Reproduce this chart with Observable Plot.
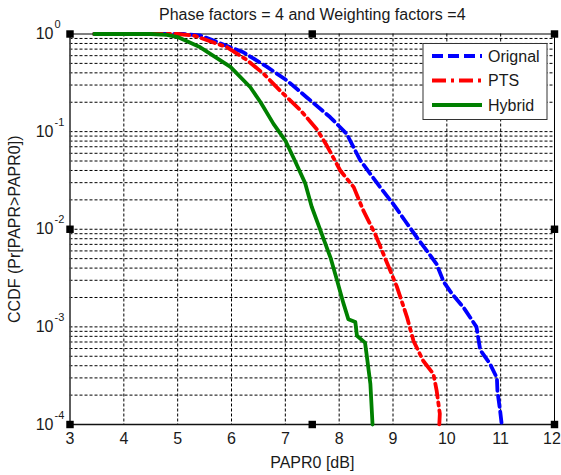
<!DOCTYPE html>
<html><head><meta charset="utf-8">
<script src="https://cdn.jsdelivr.net/npm/d3@7"></script>
<script src="https://cdn.jsdelivr.net/npm/@observablehq/plot@0.6"></script>
<style>html,body{margin:0;padding:0;background:#fff;}</style>
</head><body><div id="chart"></div>
<script>
const title = "Phase factors = 4 and Weighting factors =4";
const xLabel = "PAPR0 [dB]";
const yLabel = "CCDF (Pr[PAPR>PAPR0])";
const seriesNames = ["Orignal", "PTS", "Hybrid"];
const seriesColors = ["#0000ff", "#ff0000", "#008000"];
const seriesDash = ["11,5", "14,5,3,5", null];
const xTicks = [3, 4, 5, 6, 7, 8, 9, 10, 11, 12];
const yExponents = [0, -1, -2, -3, -4];

const origX = [3.45, 5.1, 5.42, 6.22, 6.66, 7.03, 7.40, 7.83, 8.14, 8.39, 8.76, 9.01, 9.22, 9.44, 9.63, 9.81, 9.94, 10.09, 10.31, 10.55, 10.62, 10.80, 10.93, 10.94, 10.99, 11.02];
const origY = [1, 1, 0.965, 0.65, 0.46, 0.334, 0.224, 0.141, 0.095, 0.051, 0.027, 0.018, 0.0123, 0.0083, 0.006, 0.0044, 0.0029, 0.0022, 0.00158, 0.001, 0.00058, 0.00042, 0.0003, 0.00022, 0.000138, 0.0001];

const ptsX = [3.45, 5.0, 5.30, 5.92, 6.29, 6.60, 6.91, 7.28, 7.59, 7.77, 8.02, 8.27, 8.45, 8.67, 8.85, 9.07, 9.26, 9.38, 9.56, 9.75, 9.81, 9.87, 9.86];
const ptsY = [1, 1, 0.965, 0.73, 0.54, 0.39, 0.26, 0.166, 0.105, 0.072, 0.04, 0.027, 0.0155, 0.0089, 0.0051, 0.0026, 0.00126, 0.00072, 0.00045, 0.00033, 0.000224, 0.000129, 0.0001];

const hybX = [3.45, 4.5, 4.8, 5.0, 5.42, 5.98, 6.35, 6.54, 6.78, 7.0, 7.18, 7.37, 7.49, 7.65, 7.84, 7.96, 8.08, 8.17, 8.30, 8.33, 8.48, 8.51, 8.58, 8.62];
const hybY = [1, 1, 0.98, 0.93, 0.73, 0.46, 0.285, 0.2, 0.12, 0.081, 0.05, 0.0295, 0.017, 0.0098, 0.0051, 0.003, 0.00174, 0.0012, 0.00112, 0.00081, 0.00069, 0.00052, 0.00026, 0.0001];

const handleX = [3, 7.5, 12];
const handleY = [1, 1e-2, 1e-4];

const seriesData = [
  origX.map((x, i) => ({x, y: origY[i]})),
  ptsX.map((x, i) => ({x, y: ptsY[i]})),
  hybX.map((x, i) => ({x, y: hybY[i]}))
];

const gridY = [];
for (let k = -4; k <= -1; k++) for (let m = 1; m <= 9; m++) gridY.push(m * Math.pow(10, k));
const gridX = xTicks.slice(1, -1);
const handles = [];
handleX.forEach(x => handleY.forEach(y => { if (!(x === 7.5 && y === 1e-2)) handles.push({x, y}); }));
const yTickData = yExponents.map(e => ({y: Math.pow(10, e), e: String(e)}));

const font = "'Liberation Sans', Arial, Helvetica, sans-serif";
const fs = 16;
const ink = "#1a1a1a";

const lineMarks = seriesData.map((d, i) => Plot.line(d, {
  x: "x", y: "y", stroke: seriesColors[i], strokeWidth: 3.8,
  strokeDasharray: seriesDash[i] || undefined
}));

const svg = Plot.plot({
  width: 561, height: 475,
  marginLeft: 69.5, marginRight: 7, marginTop: 33.5, marginBottom: 51,
  style: {fontFamily: font, fontSize: fs + "px", color: ink, background: "#fff"},
  x: {domain: [3, 12], label: null, axis: null},
  y: {type: "log", domain: [1e-4, 1], label: null, axis: null},
  marks: [
    Plot.ruleY(gridY, {stroke: "#000", strokeWidth: 1, strokeDasharray: "3,2"}),
    Plot.ruleX(gridX, {stroke: "#000", strokeWidth: 1, strokeDasharray: "3,2"}),
    Plot.frame({stroke: "#000", strokeWidth: 1}),
    Plot.ruleX([3], {stroke: "#555", strokeWidth: 1.6}),
    Plot.ruleY([1e-4], {stroke: "#111", strokeWidth: 1.5}),
    Plot.axisX(xTicks.slice(0, -1), {tickSize: 0, tickPadding: 8, fontSize: fs, label: null, tickFormat: d => String(d)}),
    Plot.axisX(xTicks.slice(-1), {tickSize: 0, tickPadding: 8, fontSize: fs, label: null, tickFormat: d => String(d), dx: -2.5}),
    Plot.text(yTickData, {x: () => 3, y: "y", text: () => "10", textAnchor: "end", dx: -16.5, fontSize: fs, fill: ink}),
    Plot.text(yTickData, {x: () => 3, y: "y", text: "e", textAnchor: "start", dx: -15.5, dy: -9.5, fontSize: 11, fill: ink}),
    ...lineMarks,
    Plot.dot(handles, {x: "x", y: "y", symbol: "square", r: 4.2, fill: "#000", stroke: null}),
    Plot.text([title], {frameAnchor: "top", dy: -19.5, fontSize: fs, fill: ink, lineAnchor: "middle", textAnchor: "middle"}),
    Plot.text([xLabel], {frameAnchor: "bottom", dy: 38, fontSize: fs, fill: ink, lineAnchor: "middle", textAnchor: "middle"}),
    Plot.text([yLabel], {frameAnchor: "left", dx: -55.5, rotate: -90, fontSize: fs, fill: ink, lineAnchor: "middle", textAnchor: "middle"})
  ]
});

// Legend box (top-right inside the axes)
const lg = d3.select(svg).append("g").attr("font-family", font).attr("font-size", fs).attr("text-anchor", "start");
lg.append("rect").attr("x", 423).attr("y", 43.5).attr("width", 124).attr("height", 76)
  .attr("fill", "#fff").attr("stroke", "#333").attr("stroke-width", 1);
seriesNames.forEach((name, i) => {
  const yy = 56 + i * 24.5;
  const ln = lg.append("line").attr("x1", 432).attr("x2", 482).attr("y1", yy).attr("y2", yy)
    .attr("stroke", seriesColors[i]).attr("stroke-width", 3.8);
  if (seriesDash[i]) ln.attr("stroke-dasharray", seriesDash[i]);
  lg.append("text").attr("x", 488).attr("y", yy).attr("dy", "0.35em").attr("fill", ink)
    .attr("text-anchor", "start").text(name);
});

document.getElementById("chart").append(svg);
</script>
</body></html>
